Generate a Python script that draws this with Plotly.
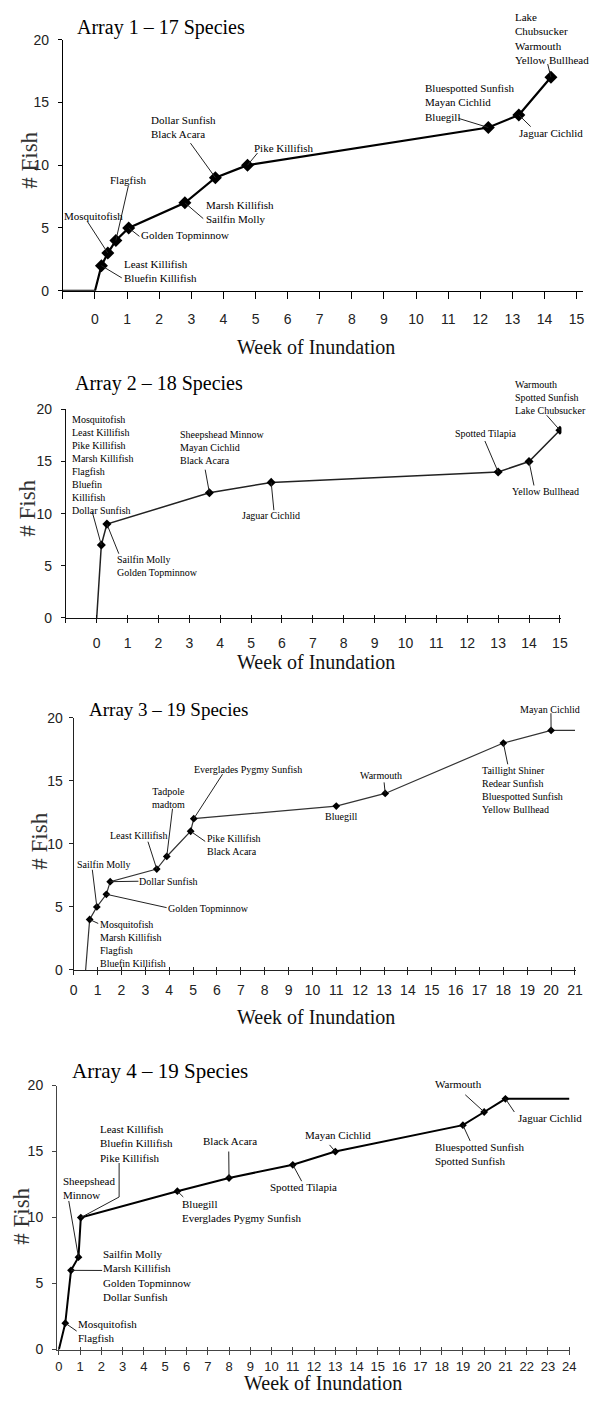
import plotly.graph_objects as go

W, H = 592, 1405

# ---------------- data ----------------
# Array 1
A1_WEEK = [0.2, 0.4, 0.65, 1.05, 2.8, 3.75, 4.75, 12.25, 13.2, 14.2]
A1_FISH = [2, 3, 4, 5, 7, 9, 10, 13, 14, 17]
A1_LEAD_WEEK, A1_LEAD_FISH = [-1, 0], [0, 0]
A1_TAIL_WEEK, A1_TAIL_FISH = [], []
A1_SPECIES = [
    ["Least Killifish", "Bluefin Killifish"],
    ["Mosquitofish"],
    ["Flagfish"],
    ["Golden Topminnow"],
    ["Marsh Killifish", "Sailfin Molly"],
    ["Dollar Sunfish", "Black Acara"],
    ["Pike Killifish"],
    ["Bluespotted Sunfish", "Mayan Cichlid", "Bluegill"],
    ["Jaguar Cichlid"],
    ["Lake", "Chubsucker", "Warmouth", "Yellow Bullhead"],
]

# Array 2
A2_WEEK = [0.15, 0.33, 3.65, 5.65, 13.0, 14.0, 15.0]
A2_FISH = [7, 9, 12, 13, 14, 15, 18]
A2_LEAD_WEEK, A2_LEAD_FISH = [0], [0]
A2_TAIL_WEEK, A2_TAIL_FISH = [], []
A2_SPECIES = [
    ["Mosquitofish", "Least Killifish", "Pike Killifish", "Marsh Killifish",
     "Flagfish", "Bluefin", "Killifish", "Dollar Sunfish"],
    ["Sailfin Molly", "Golden Topminnow"],
    ["Sheepshead Minnow", "Mayan Cichlid", "Black Acara"],
    ["Jaguar Cichlid"],
    ["Spotted Tilapia"],
    ["Yellow Bullhead"],
    ["Warmouth", "Spotted Sunfish", "Lake Chubsucker"],
]

# Array 3
A3_WEEK = [0.67, 0.97, 1.37, 1.53, 3.48, 3.9, 4.9, 5.03, 11.0, 13.05, 18.0, 20.0]
A3_FISH = [4, 5, 6, 7, 8, 9, 11, 12, 13, 14, 18, 19]
A3_LEAD_WEEK, A3_LEAD_FISH = [0.5], [0]
A3_TAIL_WEEK, A3_TAIL_FISH = [21], [19]
A3_SPECIES = [
    ["Mosquitofish", "Marsh Killifish", "Flagfish", "Bluefin Killifish"],
    ["Sailfin Molly"],
    ["Golden Topminnow"],
    ["Dollar Sunfish"],
    ["Least Killifish"],
    ["Tadpole", "madtom"],
    ["Pike Killifish", "Black Acara"],
    ["Everglades Pygmy Sunfish"],
    ["Bluegill"],
    ["Warmouth"],
    ["Taillight Shiner", "Redear Sunfish", "Bluespotted Sunfish", "Yellow Bullhead"],
    ["Mayan Cichlid"],
]

# Array 4
A4_WEEK = [0.3, 0.57, 0.92, 1.03, 5.57, 8.0, 11.0, 13.0, 19.0, 20.0, 21.0]
A4_FISH = [2, 6, 7, 10, 12, 13, 14, 15, 17, 18, 19]
A4_LEAD_WEEK, A4_LEAD_FISH = [0], [0]
A4_TAIL_WEEK, A4_TAIL_FISH = [24], [19]
A4_SPECIES = [
    ["Mosquitofish", "Flagfish"],
    ["Sailfin Molly", "Marsh Killifish", "Golden Topminnow", "Dollar Sunfish"],
    ["Sheepshead", "Minnow"],
    ["Least Killifish", "Bluefin Killifish", "Pike Killifish"],
    ["Bluegill", "Everglades Pygmy Sunfish"],
    ["Black Acara"],
    ["Spotted Tilapia"],
    ["Mayan Cichlid"],
    ["Bluespotted Sunfish", "Spotted Sunfish"],
    ["Warmouth"],
    ["Jaguar Cichlid"],
]

TITLES = ["Array 1 \u2013 17 Species", "Array 2 \u2013 18 Species",
          "Array 3 \u2013 19 Species", "Array 4 \u2013 19 Species"]
X_TICKS = [list(range(-1, 16)), list(range(-1, 16)), list(range(0, 22)), list(range(0, 25))]
Y_TICKS = [0, 5, 10, 15, 20]
X_TITLE = "Week of Inundation"
Y_TITLE = "# Fish"

# ---------------- layout (pixels) ----------------
# label placement: (left_px, center_y_px, leader_start_px or None, via_px or None, anchor)
A1_LAB = [
    (121.7, 265.8, (120, 273), None, "left"),
    (60, 210.7, (85, 216), None, "left"),
    (106.7, 174, (126.7, 180), None, "left"),
    (139, 230, (138, 231), None, "left"),
    (205, 206.7, (203, 213), None, "left"),
    (149, 120.3, (190, 136.7), None, "left"),
    (254, 141.7, (258.3, 146.7), None, "left"),
    (428.3, 95.9, (463.3, 111.7), None, "left"),
    (523.3, 126, (536.7, 120), None, "left"),
    (520, 31, (554, 56.7), None, "left"),
]
A2_LAB = [
    (68, 462.5, (90, 510), None, "left"),
    (114, 564.5, (117, 552), None, "left"),
    (178, 445, (205, 467), None, "left"),
    (241, 513, (275, 508), None, "left"),
    (459, 430, (490, 438), None, "left"),
    (517, 489, (540, 483), None, "left"),
    (520, 394, (553, 412), None, "left"),
]
A3_LAB = [
    (96.7, 947, (96, 926), None, "left"),
    (73, 866.7, (90, 871.7), None, "left"),
    (166, 910.7, (165.7, 910), None, "left"),
    (137, 883.3, (137, 883.3), None, "left"),
    (107, 836.7, (146.7, 843.3), None, "left"),
    (168, 799, (171.7, 810), None, "center"),
    (206, 847, (205, 843), None, "left"),
    (193, 770, (222.7, 775), None, "left"),
    (325.7, 818, None, None, "left"),
    (361.7, 776.7, (387.3, 783.3), None, "left"),
    (486, 791, (513.3, 765), None, "left"),
    (525, 710, (557.3, 713.3), None, "left"),
]
A4_LAB = [
    (74, 1338.3, (74, 1338.3), None, "left"),
    (100, 1281.7, (100, 1277), None, "left"),
    (59.3, 1193.3, (66, 1206.7), None, "left"),
    (96.7, 1148.3, (117.3, 1168.3), (117.3, 1202.7), "left"),
    (180, 1216.7, (182.7, 1202.7), None, "left"),
    (201.7, 1146, (229, 1156.7), None, "left"),
    (270, 1192.7, (303.3, 1186.7), None, "left"),
    (306, 1140, (331.7, 1150), None, "left"),
    (437.7, 1158.7, (475, 1146), None, "left"),
    (438.3, 1088.3, (470, 1099.3), None, "left"),
    (522.7, 1122.7, (520, 1116.7), None, "left"),
]

PANELS = [
    dict(week=A1_WEEK, fish=A1_FISH, lead=(A1_LEAD_WEEK, A1_LEAD_FISH), tail=(A1_TAIL_WEEK, A1_TAIL_FISH),
         species=A1_SPECIES, lab=A1_LAB, xpx=(60, 590), xr=(-1, 15.2), ypx=(286, 32),
         lw=2.2, lc="#000", ms=10, axc="#000", tfs=14, xtl=7, xstand=8, ystand=6, cross=False,
         lfs=11, title=(72, 20, 20), xt=(318, 343), yt=(26, 154)),
    dict(week=A2_WEEK, fish=A2_FISH, lead=(A2_LEAD_WEEK, A2_LEAD_FISH), tail=(A2_TAIL_WEEK, A2_TAIL_FISH),
         species=A2_SPECIES, lab=A2_LAB, xpx=(63, 568), xr=(-1, 15.05), ypx=(617, 406),
         lw=1.5, lc="#222", ms=7, axc="#111", tfs=14, xtl=4, xstand=8, ystand=6, cross=True,
         lfs=10, title=(70, 380, 20), xt=(318, 662), yt=(24, 506)),
    dict(week=A3_WEEK, fish=A3_FISH, lead=(A3_LEAD_WEEK, A3_LEAD_FISH), tail=(A3_TAIL_WEEK, A3_TAIL_FISH),
         species=A3_SPECIES, lab=A3_LAB, xpx=(71, 583), xr=(0, 21.05), ypx=(973, 718),
         lw=1.2, lc="#333", ms=6, axc="#222", tfs=14, xtl=4, xstand=3, ystand=3, cross=True,
         lfs=10, title=(85, 710, 19), xt=(318, 1021), yt=(36, 843)),
    dict(week=A4_WEEK, fish=A4_FISH, lead=(A4_LEAD_WEEK, A4_LEAD_FISH), tail=(A4_TAIL_WEEK, A4_TAIL_FISH),
         species=A4_SPECIES, lab=A4_LAB, xpx=(54, 577), xr=(-0.09, 24.05), ypx=(1357, 1090),
         lw=2, lc="#000", ms=6, axc="#444", tfs=13, xtl=4, xstand=1, ystand=6, cross=True,
         lfs=11, title=(67, 1075, 21), xt=(325, 1391), yt=(17, 1222)),
]

SERIF = "Liberation Serif, Times New Roman, serif"
SANS = "Liberation Sans, Arial, sans-serif"


def to_paper(px, py):
    return px / W, 1 - py / H


def data_to_px(p, x, y):
    (xl, xr), (x0, x1) = p["xpx"], p["xr"]
    yb, yt = p["ypx"]
    return xl + (x - x0) / (x1 - x0) * (xr - xl), yb - y / 20.0 * (yb - yt)


fig = go.Figure()
annotations = []
shapes = []
layout = dict(width=W, height=H, margin=dict(l=0, r=0, t=0, b=0),
              paper_bgcolor="white", plot_bgcolor="white", showlegend=False)

for i, p in enumerate(PANELS):
    n = i + 1
    xa = "x" if n == 1 else f"x{n}"
    ya = "y" if n == 1 else f"y{n}"
    xkey = "xaxis" if n == 1 else f"xaxis{n}"
    ykey = "yaxis" if n == 1 else f"yaxis{n}"
    xl, xr = p["xpx"]
    yb, yt = p["ypx"]
    ticks = X_TICKS[i]
    ticktext = ["" if t < 0 else str(t) for t in ticks]
    layout[xkey] = dict(domain=[xl / W, xr / W], range=list(p["xr"]), anchor=ya,
                        tickmode="array", tickvals=ticks, ticktext=ticktext,
                        ticks="outside", ticklen=p["xtl"], tickwidth=1, tickcolor=p["axc"],
                        showline=True, linecolor=p["axc"], linewidth=1,
                        showgrid=False, zeroline=False, ticklabelstandoff=p["xstand"],
                        tickfont=dict(family=SANS, size=p["tfs"], color="#222"))
    layout[ykey] = dict(domain=[1 - yb / H, 1 - yt / H], range=[0, 20], anchor=xa,
                        tickmode="array", tickvals=Y_TICKS,
                        ticks="outside", ticklen=4, tickwidth=1, tickcolor=p["axc"],
                        showline=True, linecolor=p["axc"], linewidth=1,
                        showgrid=False, zeroline=False, ticklabelstandoff=p["ystand"],
                        tickfont=dict(family=SANS, size=14, color="#222"))
    if p["cross"]:
        k = n + 4
        layout[f"xaxis{k}"] = dict(overlaying=xa, range=list(p["xr"]), anchor=ya,
                                   tickmode="array", tickvals=ticks, ticks="inside",
                                   ticklen=3, tickwidth=1, tickcolor=p["axc"],
                                   showticklabels=False, showline=False, showgrid=False,
                                   zeroline=False)
        fig.add_trace(go.Scatter(x=[p["xr"][0]], y=[0], xaxis=f"x{k}", yaxis=ya,
                                 mode="markers", marker=dict(size=0, opacity=0),
                                 hoverinfo="skip"))

    lx = list(p["lead"][0]) + list(p["week"]) + list(p["tail"][0])
    ly = list(p["lead"][1]) + list(p["fish"]) + list(p["tail"][1])
    fig.add_trace(go.Scatter(x=lx, y=ly, xaxis=xa, yaxis=ya, mode="lines",
                             line=dict(color=p["lc"], width=p["lw"]), hoverinfo="skip"))
    fig.add_trace(go.Scatter(x=p["week"], y=p["fish"], xaxis=xa, yaxis=ya, mode="markers",
                             marker=dict(symbol="diamond", size=p["ms"], color="#000"),
                             hoverinfo="skip"))

    # species labels + leader lines
    for j, (lab, spec) in enumerate(zip(p["lab"], p["species"])):
        left, cy, start, via, anchor = lab
        px_, py_ = to_paper(left, cy)
        annotations.append(dict(xref="paper", yref="paper", x=px_, y=py_,
                                xanchor=anchor, yanchor="middle", align=anchor,
                                text="<br>".join(spec), showarrow=False, borderpad=0,
                                font=dict(family=SERIF, size=p["lfs"], color="#000")))
        if start is not None:
            tx, ty = data_to_px(p, p["week"][j], p["fish"][j])
            pts = [start] + ([via] if via else []) + [(tx, ty)]
            for (ax_, ay_), (bx_, by_) in zip(pts[:-1], pts[1:]):
                x0, y0 = to_paper(ax_, ay_)
                x1, y1 = to_paper(bx_, by_)
                shapes.append(dict(type="line", xref="paper", yref="paper",
                                   x0=x0, y0=y0, x1=x1, y1=y1,
                                   line=dict(color="#222", width=1)))

    # panel title
    tx_, ty_, tfs = p["title"]
    x_, y_ = to_paper(tx_, ty_)
    annotations.append(dict(xref="paper", yref="paper", x=x_, y=y_, xanchor="left",
                            yanchor="middle", text=TITLES[i], showarrow=False,
                            font=dict(family=SERIF, size=tfs, color="#000")))
    # x-axis title
    x_, y_ = to_paper(*p["xt"])
    annotations.append(dict(xref="paper", yref="paper", x=x_, y=y_, xanchor="center",
                            yanchor="middle", text=X_TITLE, showarrow=False,
                            font=dict(family=SERIF, size=20, color="#111")))
    # y-axis title
    x_, y_ = to_paper(*p["yt"])
    annotations.append(dict(xref="paper", yref="paper", x=x_, y=y_, xanchor="center",
                            yanchor="middle", text=Y_TITLE, textangle=-90, showarrow=False,
                            font=dict(family=SERIF, size=23, color="#333")))

layout["annotations"] = annotations
layout["shapes"] = shapes
fig.update_layout(**layout)
fig.write_html("out.html")
